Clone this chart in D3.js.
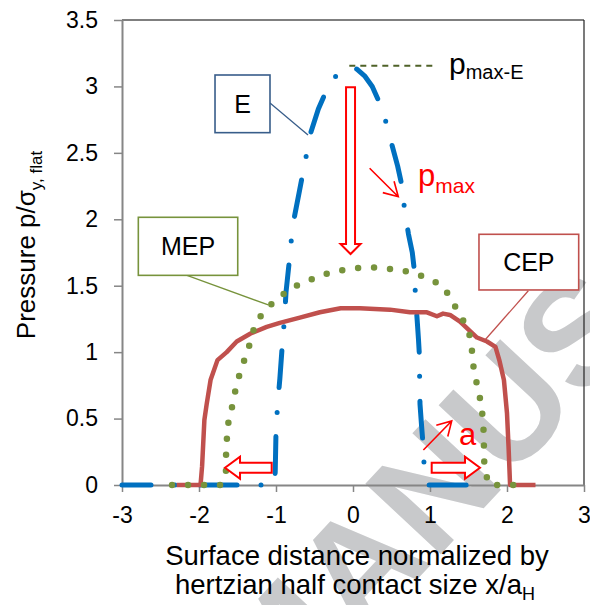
<!DOCTYPE html>
<html><head><meta charset="utf-8">
<script src="https://cdn.jsdelivr.net/npm/d3@7/dist/d3.min.js"></script>
<style>body{margin:0;background:#fff}svg{display:block}</style>
</head><body>
<svg id="c" width="590" height="605"></svg>
<script>
// ---------- data ----------
const xTicks = [-3, -2, -1, 0, 1, 2, 3];
const yTicks = [0, 0.5, 1, 1.5, 2, 2.5, 3, 3.5];

// E (elastic, Hertzian) pressure
const eX = [-3, -2.5, -2, -1.5, -1.2, -1.02, -1.01, -1.0, -0.98, -0.95, -0.92, -0.89, -0.87, -0.83, -0.8, -0.76, -0.7, -0.65, -0.6, -0.55, -0.45, -0.36, -0.25, -0.15, -0.05, 0.05, 0.15, 0.25, 0.35, 0.44, 0.51, 0.58, 0.64, 0.67, 0.72, 0.77, 0.8, 0.81, 0.83, 0.85, 0.865, 0.865, 0.87, 0.89, 0.91, 0.925, 0.95, 0.97, 1.2, 1.6];
const eY = [0, 0, 0, 0, 0, 0, 0.1, 0.4, 0.6, 0.8, 1.04, 1.25, 1.45, 1.67, 1.85, 2.02, 2.2, 2.35, 2.5, 2.65, 2.83, 2.95, 3.06, 3.12, 3.15, 3.13, 3.08, 3.0, 2.87, 2.71, 2.55, 2.4, 2.24, 2.07, 1.89, 1.75, 1.6, 1.43, 1.27, 1.1, 0.95, 0.78, 0.61, 0.45, 0.3, 0.13, 0.02, 0, 0, 0];

// MEP pressure
const mepX = [-2.35, -2.13, -1.93, -1.72, -1.65, -1.65, -1.64, -1.63, -1.58, -1.54, -1.49, -1.43, -1.36, -1.31, -1.23, -1.10, -0.94, -0.78, -0.61, -0.41, -0.21, -0.01, 0.20, 0.41, 0.61, 0.81, 1.00, 1.18, 1.28, 1.39, 1.49, 1.54, 1.55, 1.58, 1.63, 1.67, 1.69, 1.70, 1.70, 1.71, 1.77, 1.98, 2.19];
const mepY = [0, 0, 0, 0, 0.09, 0.21, 0.32, 0.44, 0.56, 0.68, 0.80, 0.91, 1.02, 1.14, 1.25, 1.34, 1.42, 1.49, 1.53, 1.58, 1.61, 1.63, 1.64, 1.63, 1.62, 1.59, 1.55, 1.49, 1.39, 1.28, 1.18, 1.07, 0.95, 0.83, 0.71, 0.59, 0.47, 0.36, 0.23, 0.11, 0, 0, 0];

// CEP pressure
const cepX = [-2.29, -1.98, -1.96, -1.93, -1.90, -1.85, -1.76, -1.64, -1.51, -1.33, -1.12, -0.95, -0.69, -0.43, -0.16, 0.09, 0.48, 0.74, 0.96, 1.09, 1.17, 1.26, 1.39, 1.50, 1.61, 1.74, 1.85, 1.90, 1.96, 2.00, 2.02, 2.04, 2.37];
const cepY = [0, 0, 0.14, 0.49, 0.61, 0.79, 0.94, 1.00, 1.08, 1.14, 1.19, 1.22, 1.26, 1.30, 1.33, 1.33, 1.32, 1.30, 1.30, 1.27, 1.29, 1.28, 1.23, 1.17, 1.11, 1.08, 1.04, 0.94, 0.79, 0.54, 0.29, 0, 0];

// ---------- chart ----------
const AX_FONT = "'Liberation Sans', Arial, Helvetica, sans-serif";
const svg = d3.select('#c');
const x = d3.scaleLinear().domain([-3, 3]).range([122, 584]);
const y = d3.scaleLinear().domain([0, 3.5]).range([485, 20]);

// watermark (behind)
svg.append('text')
  .attr('transform', 'translate(275,732) rotate(-47)')
  .attr('font-family', AX_FONT).attr('font-weight', 'bold')
  .attr('font-size', 150).attr('fill', '#c8c9cb')
  .text('MANUSCRIPT');

// plot frame (top/right)
svg.append('line').attr('x1', x(-3)).attr('x2', x(3)).attr('y1', y(3.5)).attr('y2', y(3.5)).attr('stroke', '#000').attr('stroke-width', 1.2);
svg.append('line').attr('x1', x(3)).attr('x2', x(3)).attr('y1', y(3.5)).attr('y2', y(0)).attr('stroke', '#222').attr('stroke-width', 1.2);

// axes
const gy = svg.append('g').attr('transform', `translate(${x(-3)},0)`)
  .call(d3.axisLeft(y).tickValues(yTicks).tickSizeInner(8).tickSizeOuter(0).tickPadding(16).tickFormat(d => String(d)));
const gx = svg.append('g').attr('transform', `translate(0,${y(0)})`)
  .call(d3.axisBottom(x).tickValues(xTicks).tickSizeInner(7).tickSizeOuter(0).tickPadding(15).tickFormat(d => String(d)));
[gx, gy].forEach(g => {
  g.select('.domain').attr('stroke', '#868686').attr('stroke-width', 2);
  g.selectAll('.tick line').attr('stroke', '#868686').attr('stroke-width', 1.5);
  g.selectAll('.tick text').attr('font-family', AX_FONT).attr('font-size', 23).attr('fill', '#000');
});

// axis titles
const xt = svg.append('text').attr('font-family', AX_FONT).attr('font-size', 27.5).attr('text-anchor', 'middle').attr('fill', '#000');
xt.append('tspan').attr('x', 357).attr('y', 565).text('Surface distance normalized by');
xt.append('tspan').attr('x', 355).attr('y', 594).text('hertzian half contact size x/a');
xt.append('tspan').attr('font-size', 18).attr('dy', 6).text('H');

const yt = svg.append('text').attr('font-family', AX_FONT).attr('font-size', 26)
  .attr('text-anchor', 'middle').attr('fill', '#000')
  .attr('transform', 'translate(35,245) rotate(-90)');
yt.append('tspan').text('Pressure p/σ');
yt.append('tspan').attr('font-size', 17).attr('dy', 7).text('y, flat');

// series
const line = d3.line().x(d => x(d[0])).y(d => y(d[1]));
const eData = eX.map((v, i) => [v, eY[i]]);
const mepData = mepX.map((v, i) => [v, mepY[i]]);
const cepData = cepX.map((v, i) => [v, cepY[i]]);

svg.append('path').datum(eData).attr('d', line)
  .attr('fill', 'none').attr('stroke', '#0070C0').attr('stroke-width', 5)
  .attr('stroke-linecap', 'round').attr('stroke-linejoin', 'round')
  .attr('stroke-dasharray', '37,24,0,25').attr('stroke-dashoffset', 8);

svg.append('path').datum(cepData).attr('d', line)
  .attr('fill', 'none').attr('stroke', '#C0504D').attr('stroke-width', 4.5)
  .attr('stroke-linejoin', 'round');

svg.append('path').datum(mepData).attr('d', line)
  .attr('fill', 'none').attr('stroke', '#77933C').attr('stroke-width', 6.5)
  .attr('stroke-linecap', 'round').attr('stroke-dasharray', '0,16');

// ---------- annotations (positioned in data units) ----------
const LBL_FONT = AX_FONT;
function callout(x0, x1, y0, y1, lx0, ly0, lx1, ly1, color, label) {
  svg.append('line').attr('x1', x(lx0)).attr('y1', y(ly0)).attr('x2', x(lx1)).attr('y2', y(ly1))
    .attr('stroke', color).attr('stroke-width', 1.3);
  svg.append('rect').attr('x', x(x0)).attr('y', y(y0)).attr('width', x(x1) - x(x0)).attr('height', y(y1) - y(y0))
    .attr('fill', '#fff').attr('stroke', color).attr('stroke-width', 1.6);
  svg.append('text').attr('x', (x(x0) + x(x1)) / 2).attr('y', (y(y0) + y(y1)) / 2 + 9)
    .attr('text-anchor', 'middle').attr('font-family', LBL_FONT).attr('font-size', 25).attr('fill', '#000').text(label);
}
callout(-1.792, -1.078, 3.086, 2.652, -1.078, 2.875, -0.584, 2.635, '#385D8A', 'E');
callout(-2.788, -1.497, 2.015, 1.578, -2.156, 1.578, -1.10, 1.355, '#77933C', 'MEP');
callout(1.636, 2.931, 1.887, 1.468, 2.277, 1.462, 1.714, 1.091, '#C0504D', 'CEP');

// p_max-E dashed level
svg.append('line').attr('x1', x(-0.048)).attr('x2', x(1.087)).attr('y1', y(3.156)).attr('y2', y(3.156))
  .attr('stroke', '#4F6228').attr('stroke-width', 2).attr('stroke-dasharray', '6,5');
const pe = svg.append('text').attr('x', x(1.247)).attr('y', y(3.091)).attr('font-family', LBL_FONT).attr('fill', '#000');
pe.append('tspan').attr('font-size', 30).text('p');
pe.append('tspan').attr('font-size', 20).attr('dy', 5).text('max-E');

const RED = '#FF0000';
function hollowArrow(x0, y0, x1, y1, sw, hw, hl) {
  const dx = x1 - x0, dy = y1 - y0, L = Math.hypot(dx, dy);
  const ux = dx / L, uy = dy / L, nx = -uy, ny = ux;
  const bx = x1 - ux * hl, by = y1 - uy * hl;
  const pts = [
    [x0 + nx * sw, y0 + ny * sw], [bx + nx * sw, by + ny * sw], [bx + nx * hw, by + ny * hw], [x1, y1],
    [bx - nx * hw, by - ny * hw], [bx - nx * sw, by - ny * sw], [x0 - nx * sw, y0 - ny * sw]
  ];
  svg.append('polygon').attr('points', pts.map(p => p.join(',')).join(' '))
    .attr('fill', '#fff').attr('stroke', RED).attr('stroke-width', 2).attr('stroke-linejoin', 'miter');
}
function thinArrow(x0, y0, x1, y1) {
  const a = Math.atan2(y1 - y0, x1 - x0), len = 16, sp = Math.PI / 6;
  const p = d3.path();
  p.moveTo(x0, y0); p.lineTo(x1, y1);
  p.moveTo(x1 - len * Math.cos(a - sp), y1 - len * Math.sin(a - sp)); p.lineTo(x1, y1);
  p.lineTo(x1 - len * Math.cos(a + sp), y1 - len * Math.sin(a + sp));
  svg.append('path').attr('d', p.toString()).attr('fill', 'none').attr('stroke', RED).attr('stroke-width', 1.6);
}
// vertical drop arrow p_max-E -> p_max
hollowArrow(x(-0.032), y(2.993), x(-0.032), y(1.739), 4.5, 10, 10);
// contact growth arrows
hollowArrow(x(-1.056), y(0.13), x(-1.662), y(0.13), 5, 11, 15);
hollowArrow(x(1.022), y(0.13), x(1.649), y(0.13), 5, 11, 15);
// thin arrows
thinArrow(x(0.216), y(2.384), x(0.588), y(2.170));
thinArrow(x(0.914), y(0.263), x(1.282), y(0.482));

const pm = svg.append('text').attr('x', x(0.844)).attr('y', y(2.251)).attr('font-family', LBL_FONT).attr('fill', RED);
pm.append('tspan').attr('font-size', 31).text('p');
pm.append('tspan').attr('font-size', 21).attr('dy', 7).text('max');
svg.append('text').attr('x', x(1.377)).attr('y', y(0.301)).attr('font-family', LBL_FONT)
  .attr('font-size', 31).attr('fill', RED).text('a');
</script>
</body></html>
